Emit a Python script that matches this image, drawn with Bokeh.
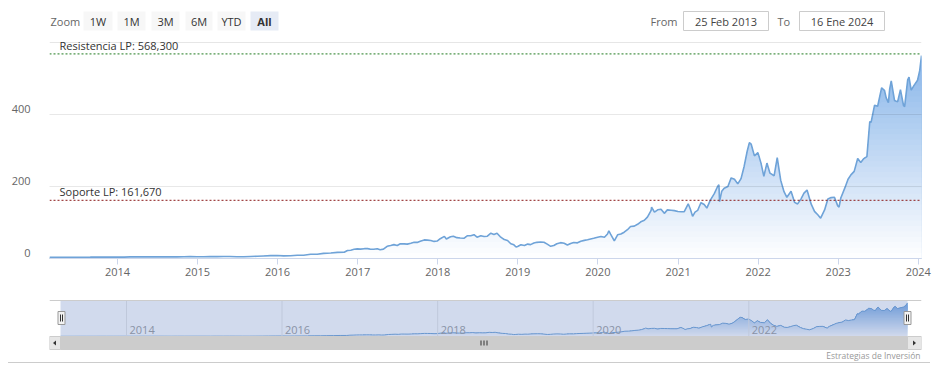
import numpy as np
import pandas as pd
from bokeh.plotting import figure
from bokeh.layouts import column
from bokeh.models import Range1d, FixedTicker, DatetimeTickFormatter, Span, Label, Div
from bokeh.embed import file_html
from bokeh.resources import INLINE
from bokeh.core.properties import value

# ---------------- data ----------------
dates = [
    "2013-02-25", "2013-03-28", "2013-04-30", "2013-05-31", "2013-06-28", "2013-07-31", "2013-08-30",
    "2013-09-30", "2013-10-31", "2013-11-29", "2013-12-31",
    "2014-01-31", "2014-02-28", "2014-03-31", "2014-04-30", "2014-05-30", "2014-06-30", "2014-07-31",
    "2014-08-29", "2014-09-30", "2014-10-31", "2014-11-28", "2014-12-31",
    "2015-01-30", "2015-02-27", "2015-03-31", "2015-04-30", "2015-05-29", "2015-06-30", "2015-07-31",
    "2015-08-31", "2015-09-30", "2015-10-30", "2015-11-30", "2015-12-31",
    "2016-01-29", "2016-02-29", "2016-03-31", "2016-04-29", "2016-05-31", "2016-06-30", "2016-07-29",
    "2016-08-31", "2016-09-30", "2016-10-31", "2016-11-15", "2016-11-30", "2016-12-15", "2016-12-30",
    "2017-01-13", "2017-01-31", "2017-02-15", "2017-02-28", "2017-03-15", "2017-03-31", "2017-04-13",
    "2017-04-28", "2017-05-15", "2017-05-31", "2017-06-15", "2017-06-30", "2017-07-14", "2017-07-31",
    "2017-08-15", "2017-08-31", "2017-09-15", "2017-09-29", "2017-10-13", "2017-10-31", "2017-11-15",
    "2017-11-30", "2017-12-15", "2017-12-29",
    "2018-01-12", "2018-01-31", "2018-02-09", "2018-02-28", "2018-03-13", "2018-03-29", "2018-04-13",
    "2018-04-30", "2018-05-15", "2018-05-31", "2018-06-15", "2018-06-29", "2018-07-16", "2018-07-31",
    "2018-08-15", "2018-08-31", "2018-09-14", "2018-09-28", "2018-10-12", "2018-10-31", "2018-11-15",
    "2018-11-30", "2018-12-14", "2018-12-24", "2018-12-31",
    "2019-01-15", "2019-01-31", "2019-02-15", "2019-02-28", "2019-03-15", "2019-03-29", "2019-04-15",
    "2019-04-30", "2019-05-15", "2019-05-31", "2019-06-14", "2019-06-28", "2019-07-15", "2019-07-31",
    "2019-08-15", "2019-08-30", "2019-09-13", "2019-09-30", "2019-10-15", "2019-10-31", "2019-11-15",
    "2019-11-29", "2019-12-13", "2019-12-31",
    "2020-01-15", "2020-01-31", "2020-02-14", "2020-02-20", "2020-02-28", "2020-03-16", "2020-03-31",
    "2020-04-15", "2020-04-30", "2020-05-15", "2020-05-29", "2020-06-15", "2020-06-30", "2020-07-15",
    "2020-07-31", "2020-08-14", "2020-08-31", "2020-09-02", "2020-09-15", "2020-09-30", "2020-10-15",
    "2020-10-30", "2020-11-13", "2020-11-30", "2020-12-15", "2020-12-31",
    "2021-01-15", "2021-01-29", "2021-02-16", "2021-02-26", "2021-03-08", "2021-03-19", "2021-03-31",
    "2021-04-15", "2021-04-30", "2021-05-12", "2021-05-28", "2021-06-15", "2021-06-30", "2021-07-06",
    "2021-07-09", "2021-07-19", "2021-07-30", "2021-08-16", "2021-08-31", "2021-09-15", "2021-09-30",
    "2021-10-15", "2021-10-29", "2021-11-12", "2021-11-22", "2021-11-30", "2021-12-15", "2021-12-31",
    "2022-01-14", "2022-01-27", "2022-02-10", "2022-02-24", "2022-03-15", "2022-03-29", "2022-04-14",
    "2022-04-29", "2022-05-12", "2022-05-31", "2022-06-16", "2022-06-30", "2022-07-15", "2022-07-29",
    "2022-08-12", "2022-08-31", "2022-09-15", "2022-09-30", "2022-10-13", "2022-10-31", "2022-11-15",
    "2022-11-30", "2022-12-15", "2022-12-30",
    "2023-01-05", "2023-01-13", "2023-01-31", "2023-02-15", "2023-02-28", "2023-03-15", "2023-03-31",
    "2023-04-14", "2023-04-28", "2023-05-12", "2023-05-25", "2023-05-31", "2023-06-16", "2023-06-30",
    "2023-07-18", "2023-07-31", "2023-08-08", "2023-08-18", "2023-08-24", "2023-08-31", "2023-09-15",
    "2023-09-29", "2023-10-12", "2023-10-26", "2023-10-31", "2023-11-14", "2023-11-20", "2023-11-30",
    "2023-12-13", "2023-12-29", "2024-01-08", "2024-01-16",
]
prices = [
    3.1, 3.2, 3.4, 3.6, 3.5, 3.65, 3.7, 3.9, 3.8, 3.95, 4.0,
    3.9, 4.5, 4.5, 4.6, 4.75, 4.6, 4.4, 4.9, 4.6, 4.9, 5.2, 5.0,
    4.8, 5.7, 5.2, 5.6, 5.5, 5.0, 5.0, 5.6, 6.2, 7.1, 7.9, 8.2,
    7.3, 7.8, 8.9, 8.9, 11.7, 11.8, 14.3, 15.3, 17.1, 17.4, 22.0, 23.1, 25.5, 26.7,
    26.0, 27.3, 27.5, 25.6, 25.5, 27.2, 24.5, 26.0, 34.0, 36.1, 38.5, 36.1, 41.0, 40.6,
    40.0, 42.3, 45.3, 44.7, 48.0, 51.7, 51.0, 50.1, 47.5, 48.4,
    55.0, 61.5, 54.0, 60.5, 62.0, 57.9, 57.0, 56.2, 63.0, 63.1, 66.0, 59.2, 63.0, 61.2,
    62.0, 70.2, 67.0, 70.3, 61.0, 52.7, 50.0, 40.9, 38.0, 32.0, 33.4,
    38.0, 35.9, 40.0, 38.6, 43.0, 44.9, 46.0, 45.2, 40.0, 33.8, 36.0, 41.1, 44.0, 42.2,
    37.5, 41.9, 44.5, 43.5, 48.0, 50.3, 52.0, 54.2, 56.0, 58.8,
    61.0, 59.1, 68.0, 77.0, 67.5, 49.0, 65.9, 68.0, 73.1, 80.0, 88.8, 90.0, 95.0, 102.0,
    106.1, 115.0, 133.8, 143.0, 129.0, 135.3, 137.0, 125.4, 135.0, 134.0, 133.0, 130.6,
    130.0, 130.0, 152.0, 137.0, 117.0, 129.0, 133.5, 155.0, 150.1, 140.0, 162.2, 180.0, 200.0, 205.0,
    158.0, 187.0, 195.0, 200.0, 223.9, 220.0, 207.2, 222.0, 255.7, 298.0, 322.0, 318.0, 285.0, 294.1,
    265.0, 228.0, 265.0, 237.0, 230.0, 280.0, 217.0, 185.5, 170.0, 186.7, 156.0, 151.6, 165.0, 181.6,
    190.0, 150.9, 131.0, 121.4, 112.0, 135.0, 165.0, 169.2, 170.0, 146.1,
    143.0, 168.0, 195.4, 220.0, 232.2, 242.0, 277.8, 267.0, 277.5, 283.0, 380.0, 378.3, 426.0, 423.0,
    474.0, 467.3, 446.0, 433.0, 471.0, 493.6, 439.0, 435.0, 469.0, 425.0, 422.0, 496.0, 504.0, 467.7,
    480.9, 495.2, 522.5, 563.8,
]
resistance = 568.3
support = 161.67
y_ticks = [0, 200, 400]
main_years = list(range(2014, 2025))
nav_years = [2014, 2016, 2018, 2020, 2022]
zoom_buttons = ["1W", "1M", "3M", "6M", "YTD", "All"]
from_text = "25 Feb 2013"
to_text = "16 Ene 2024"
credits_text = "Estrategias de Inversi\u00f3n"

# ---------------- helpers ----------------
FONT = "Open Sans"
W = 938
FL, FR = 49, 921          # frame left / right, shared by all stacked figures
HH = 36                   # header height
PX_PER_UNIT = 0.36        # main chart vertical scale
LABEL_LIFT = 14           # y-axis labels sit slightly above their grid lines (value units)


def to_ms(strs):
    t = pd.to_datetime(strs)
    return (t.astype("int64") // 1_000_000).to_numpy().astype(float)


def mix(c1, c2, f):
    return "#%02x%02x%02x" % tuple(int(round(a + (b - a) * f)) for a, b in zip(c1, c2))


def bare(fig):
    fig.grid.visible = False
    fig.outline_line_color = None
    fig.background_fill_color = "white"
    fig.border_fill_color = "white"


xm = to_ms(dates)
py = np.array(prices, dtype=float)
x0, x1 = xm[0], xm[-1]
span = x1 - x0
WHITE = (255, 255, 255)

# ---------------- header ----------------
h = figure(width=W, height=HH, x_range=Range1d(FL, FR), y_range=Range1d(HH, 0),
           output_backend="svg", toolbar_location=None, min_border_left=FL,
           min_border_right=W - FR, min_border_top=0, min_border_bottom=0,
           x_axis_location=None, y_axis_location=None)
bare(h)

btn_left = [83, 117, 151, 185, 217, 250]
btn_right = [112, 145, 179, 212, 245, 278]
btn_fill = ["#f7f7f7"] * 5 + ["#e6ebf5"]
h.quad(left=btn_left, right=btn_right, top=11, bottom=30, fill_color=btn_fill, line_color=None)
cx = [(a + b) / 2 for a, b in zip(btn_left, btn_right)]
h.text(x=cx[:5], y=[21] * 5, text=zoom_buttons[:5], text_align="center", text_baseline="middle",
       text_font=value(FONT), text_font_size="11px", text_color="#333333")
h.text(x=cx[5:], y=[21], text=zoom_buttons[5:], text_align="center", text_baseline="middle",
       text_font=value(FONT), text_font_size="11px", text_color="#333333", text_font_style="bold")
h.text(x=[50, 650, 777], y=[21, 21, 21], text=["Zoom", "From", "To"], text_align="left",
       text_baseline="middle", text_font=value(FONT), text_font_size="11px", text_color="#666666")
h.quad(left=[683, 799], right=[768, 884], top=11, bottom=30, fill_color="white",
       line_color="#cccccc", line_width=1)
h.text(x=[725.5, 841.5], y=[21, 21], text=[from_text, to_text], text_align="center",
       text_baseline="middle", text_font=value(FONT), text_font_size="11px", text_color="#444444")

# ---------------- main chart ----------------
MH = 290 - HH
frame_h = MH - 32
y_top = frame_h / PX_PER_UNIT
p = figure(width=W, height=MH, x_range=Range1d(x0, x1), y_range=Range1d(0, y_top),
           x_axis_type="datetime", output_backend="svg", toolbar_location=None,
           min_border_left=FL, min_border_right=W - FR, min_border_top=0, min_border_bottom=32)
p.outline_line_color = None
p.background_fill_color = "white"
p.border_fill_color = "white"

TOP = (128, 176, 232)
step = 15
for hi in np.arange(600, 0, -step):
    f = (hi - step / 2) / 600.0
    p.varea(x=xm, y1=0, y2=np.minimum(py, hi), fill_color=mix(WHITE, TOP, f), fill_alpha=1.0)

p.line(xm, py, line_color="#6fa3d8", line_width=1.6)

p.xgrid.grid_line_color = None
p.ygrid.ticker = FixedTicker(ticks=y_ticks)
p.ygrid.grid_line_color = "black"
p.ygrid.grid_line_alpha = 0.09
p.ygrid.level = "overlay"
p.add_layout(Span(location=600, dimension="width", line_color="#e6e6e6", line_width=1))

p.xaxis.ticker = FixedTicker(ticks=list(to_ms([f"{y}-01-01" for y in main_years])))
p.xaxis.formatter = DatetimeTickFormatter(years="%Y", months="%Y", days="%Y", hours="%Y",
                                          minutes="%Y", seconds="%Y", milliseconds="%Y",
                                          minsec="%Y", hourmin="%Y")
p.xaxis.axis_line_color = "#ccd6eb"
p.xaxis.major_tick_line_color = "#ccd6eb"
p.xaxis.major_tick_out = 6
p.xaxis.major_tick_in = 0
p.xaxis.minor_tick_line_color = None
p.xaxis.major_label_standoff = 3
p.xaxis.major_label_text_color = "#666666"
p.xaxis.major_label_text_font = FONT
p.xaxis.major_label_text_font_size = "11px"

lab_pos = [t + LABEL_LIFT for t in y_ticks]
p.yaxis.ticker = FixedTicker(ticks=lab_pos)
p.yaxis.major_label_overrides = {pos: str(t) for pos, t in zip(lab_pos, y_ticks)}
p.yaxis.axis_line_color = None
p.yaxis.major_tick_line_color = None
p.yaxis.minor_tick_line_color = None
p.yaxis.major_label_standoff = 13
p.yaxis.major_label_text_color = "#666666"
p.yaxis.major_label_text_font = FONT
p.yaxis.major_label_text_font_size = "11px"

p.add_layout(Span(location=resistance, dimension="width", line_color="#1f7a1f",
                  line_dash="2 2", line_width=1))
p.add_layout(Span(location=support, dimension="width", line_color="#8b1a1a",
                  line_dash="2 2", line_width=1))
res_txt = "Resistencia LP: " + f"{resistance:.3f}".replace(".", ",")
sup_txt = "Soporte LP: " + f"{support:.3f}".replace(".", ",")
p.add_layout(Label(x=x0, y=resistance, x_offset=10, y_offset=1, text=res_txt, text_font=FONT,
                   text_font_size="11px", text_color="#333333", text_baseline="bottom"))
p.add_layout(Label(x=x0, y=support, x_offset=10, y_offset=1, text=sup_txt, text_font=FONT,
                   text_font_size="11px", text_color="#333333", text_baseline="bottom"))

# ---------------- navigator ----------------
NH = 72
n = figure(width=W, height=NH, x_range=Range1d(FL, FR), y_range=Range1d(NH, 0),
           output_backend="svg", toolbar_location=None, min_border_left=FL,
           min_border_right=W - FR, min_border_top=0, min_border_bottom=0,
           x_axis_location=None, y_axis_location=None)
bare(n)

nav_l, nav_r = 60.0, 907.0          # pixel extent of navigator series
nav_top, nav_bot = 12.0, 46.0       # local pixel of nav max / zero
nav_max = 570.0
n.extra_x_ranges["nx"] = Range1d(x0 - (nav_l - FL) / (nav_r - nav_l) * span,
                                 x1 + (FR - nav_r) / (nav_r - nav_l) * span)
k = nav_max / (nav_bot - nav_top)
n.extra_y_ranges["ny"] = Range1d(-(NH - nav_bot) * k, nav_bot * k)

TOPN = (113, 164, 224)
nstep = 20
for hi in np.arange(580, 0, -nstep):
    f = min(1.0, (hi - nstep / 2) / nav_max)
    n.varea(x=xm, y1=0, y2=np.minimum(py, hi), fill_color=mix(WHITE, TOPN, f),
            x_range_name="nx", y_range_name="ny")
n.line(xm, py, line_color="#6a9fd4", line_width=1, x_range_name="nx", y_range_name="ny")

# year grid lines and labels
ny_ms = to_ms([f"{y}-01-01" for y in nav_years])
n.segment(x0=ny_ms, x1=ny_ms, y0=10, y1=46, line_color="#e6e6e6", line_width=1, x_range_name="nx")
n.text(x=ny_ms, y=[39] * len(ny_ms), text=[str(y) for y in nav_years], x_offset=3,
       text_align="left", text_baseline="middle", text_font=value(FONT), text_font_size="11px",
       text_color="#999999", x_range_name="nx")

# selection mask
n.quad(left=nav_l, right=nav_r, top=10, bottom=46, fill_color="#6685c2", fill_alpha=0.3,
       line_color=None)
# outline
n.segment(x0=FL, x1=FR, y0=10, y1=10, line_color="#cccccc", line_width=1)

# handles
n.quad(left=[57.5, 903.5], right=[64.5, 910.5], top=21, bottom=34, fill_color="#f2f2f2",
       line_color="#999999", line_width=1)
n.segment(x0=[60, 62, 906, 908], x1=[60, 62, 906, 908], y0=24, y1=31, line_color="#333333",
          line_width=1)

# scrollbar
n.quad(left=FL, right=FR, top=46, bottom=59, fill_color="#f2f2f2", line_color=None)
n.quad(left=nav_l, right=nav_r, top=46, bottom=59, fill_color="#cccccc", line_color="#cccccc")
n.quad(left=[FL, nav_r], right=[nav_l, FR], top=46, bottom=59, fill_color="#e6e6e6",
       line_color="#cccccc", line_width=1)
n.patches(xs=[[52.5, 55.5, 55.5], [915.5, 912.5, 912.5]], ys=[[52.5, 50, 55], [52.5, 50, 55]],
          fill_color="#333333", line_color=None)
gx = (nav_l + nav_r) / 2
n.segment(x0=[gx - 3, gx, gx + 3], x1=[gx - 3, gx, gx + 3], y0=50, y1=55,
          line_color="#333333", line_width=1)

# credits
n.text(x=[920], y=[65], text=[credits_text], text_align="right", text_baseline="middle",
       text_font=value(FONT), text_font_size="8.5px", text_color="#999999")

# bottom rule
rule = Div(text="", width=922, height=14, margin=(0, 0, 0, 8),
           styles={"border-top": "1px solid #cccccc"})

layout = column(h, p, n, rule, spacing=0)
open("out.html", "w").write(file_html(layout, INLINE))
